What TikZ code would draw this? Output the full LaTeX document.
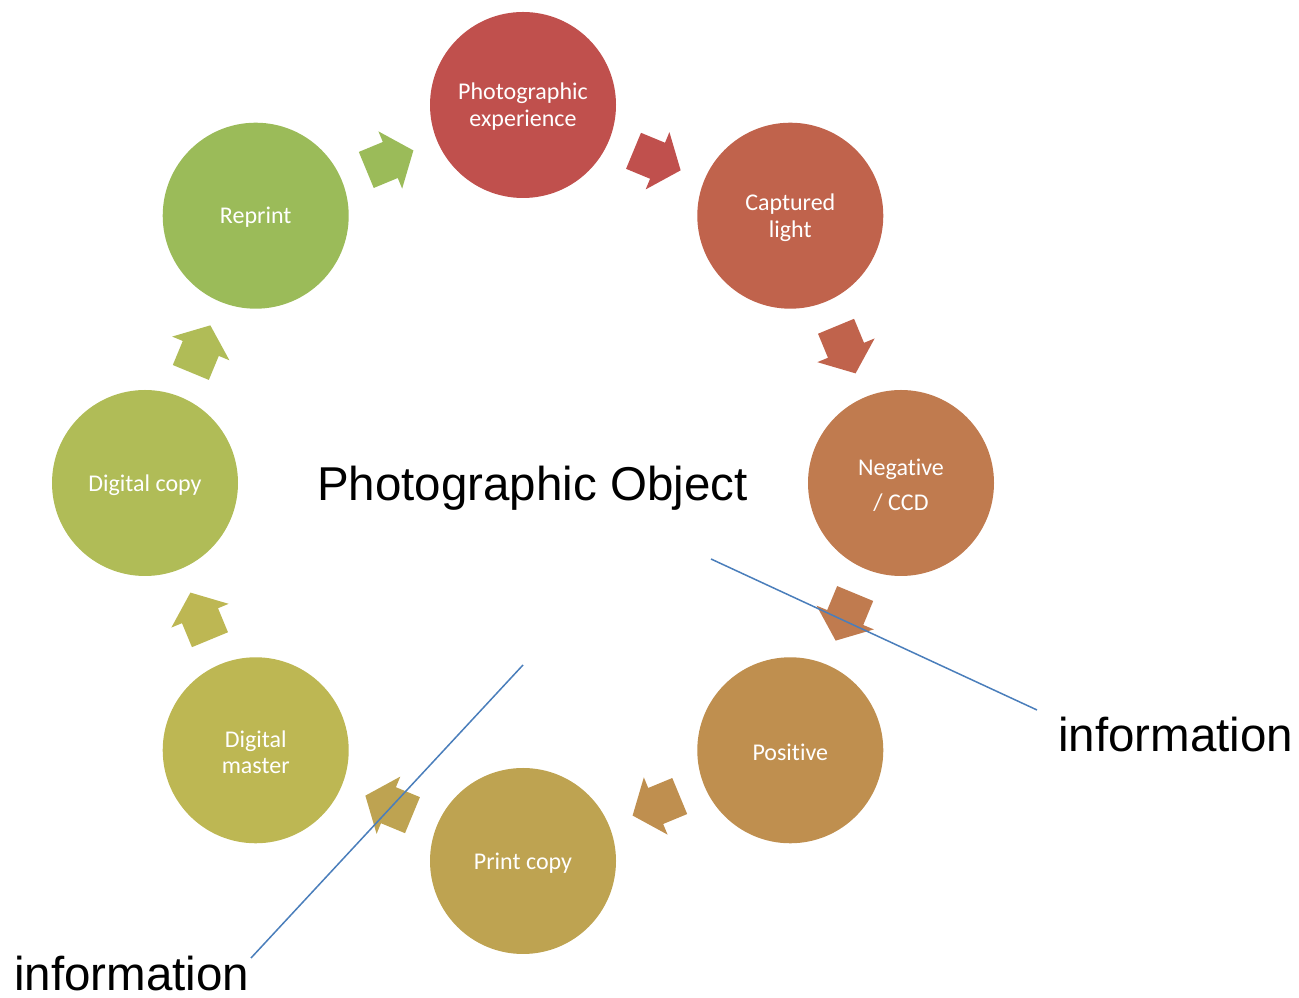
\documentclass[tikz,border=0pt]{standalone}
\usepackage{fontspec}
\setmainfont{Liberation Sans}
\newfontfamily\calibri[Ligatures={NoCommon}]{Carlito}
\usetikzlibrary{calc}
\definecolor{cA}{HTML}{C0504D}
\definecolor{cB}{HTML}{C0634C}
\definecolor{cC}{HTML}{C07B4F}
\definecolor{cD}{HTML}{BF8F4F}
\definecolor{cE}{HTML}{BEA351}
\definecolor{cF}{HTML}{BDB753}
\definecolor{cG}{HTML}{B0BC57}
\definecolor{cH}{HTML}{9BBB59}
\definecolor{lineblue}{HTML}{4A7EBB}
\tikzset{
  circ/.style={circle, minimum size=186pt, inner sep=0pt},
  ctext/.style={text=white, align=center, inner sep=0pt, yshift=-1.8pt,
    font=\calibri\fontsize{24}{26.5}\selectfont},
  bigtext/.style={font=\fontsize{47.5}{57}\selectfont, inner sep=0pt},
  infoline/.style={draw=lineblue, line width=1.5pt}
}
\begin{document}
\begin{tikzpicture}[x=1pt,y=1pt]
\useasboundingbox (0,0) rectangle (1299,998);
\coordinate (C) at (523,515);
% block arrows
\foreach \a/\col/\nm in {67.5/cA/a1, 22.5/cB/a2, -22.5/cC/a3, -67.5/cD/a4, -112.5/cE/a5, -157.5/cF/a6, 157.5/cG/a7, 112.5/cH/a8}{
  \begin{scope}[shift={($(C)+(\a:349.2)$)}, rotate=\a-90]
    \coordinate (\nm) at (0,0);
    \fill[\col] (-25,-19.5) -- (1,-19.5) -- (1,-31) -- (26,0) -- (1,31) -- (1,19.5) -- (-25,19.5) -- cycle;
  \end{scope}
}
% circles
\node[circ, fill=cA, label={[ctext]center:{Photographic\\experience}}] (exp) at ($(C)+(90:378)$) {};
\node[circ, fill=cB, label={[ctext]center:{Captured\\light}}] (cap) at ($(C)+(45:378)$) {};
\node[circ, fill=cC, label={[ctext]center:{Negative\\[8.5pt]/ CCD}}] (neg) at ($(C)+(0:378)$) {};
\node[circ, fill=cD, label={[ctext]center:{Positive}}] (pos) at ($(C)+(-45:378)$) {};
\node[circ, fill=cE, label={[ctext]center:{Print copy}}] (prt) at ($(C)+(-90:378)$) {};
\node[circ, fill=cF, label={[ctext]center:{Digital\\master}}] (dm) at ($(C)+(-135:378)$) {};
\node[circ, fill=cG, label={[ctext]center:{Digital copy}}] (dc) at ($(C)+(180:378)$) {};
\node[circ, fill=cH, label={[ctext]center:{Reprint}}] (rep) at ($(C)+(135:378)$) {};
% texts
\node[bigtext, anchor=base west] (obj) at (317,497) {Photographic Object};
\node[bigtext, anchor=base west] (infoR) at (1058,246) {information};
\node[bigtext, anchor=base west] (infoL) at (14,7.5) {information};
% lines
\coordinate (l1a) at (711,439);
\coordinate (l1b) at (1037,288);
\coordinate (l2a) at (523,333);
\coordinate (l2b) at (251,40);
\draw[infoline] (l1a) -- (l1b);
\draw[infoline] (l2a) -- (l2b);
\end{tikzpicture}
\end{document}
